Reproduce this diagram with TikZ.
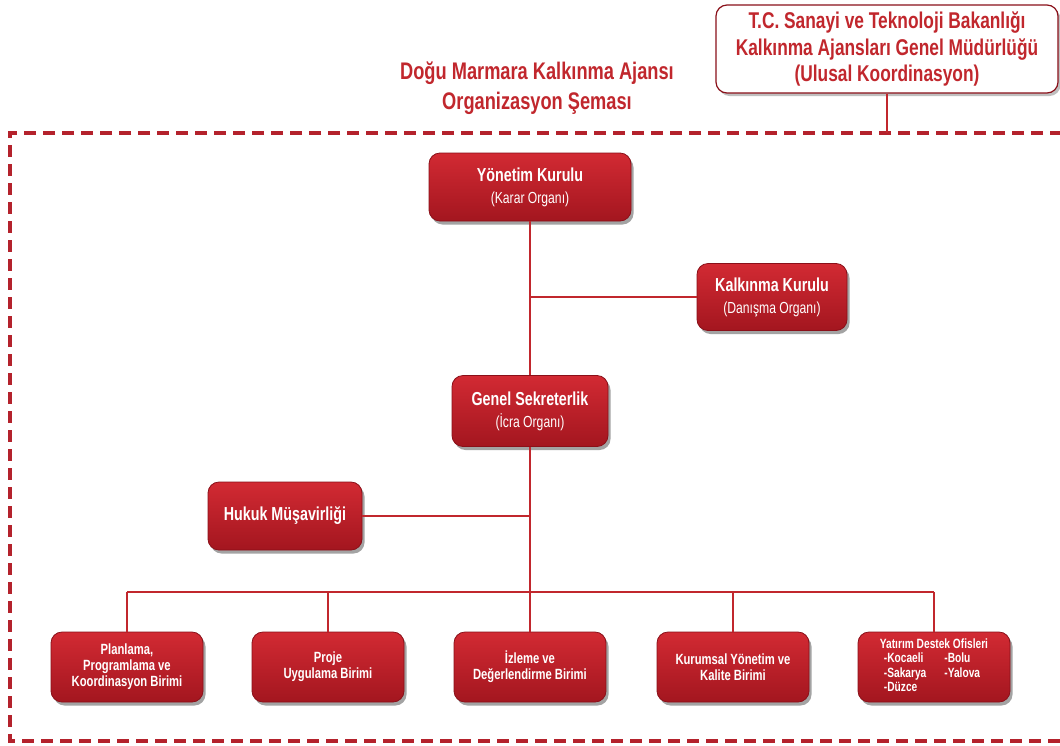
\documentclass[tikz,border=0pt]{standalone}
\usepackage{fontspec}
\setmainfont{Liberation Sans}[FakeStretch=0.76]
\usetikzlibrary{shadows,calc}
\definecolor{ared}{HTML}{C1272D}
\definecolor{framered}{HTML}{B4222C}
\definecolor{boxtop}{HTML}{D22A33}
\definecolor{boxbot}{HTML}{A3161F}
\definecolor{boxedge}{HTML}{8A1019}
\begin{document}
\begin{tikzpicture}[x=1pt,y=-1pt,
  unitbox/.style={rounded corners=11pt, top color=boxtop, bottom color=boxbot, draw=boxedge, line width=0.8pt,
    text=white, align=center, inner sep=2pt,
    drop shadow={shadow xshift=2.5pt, shadow yshift=-3.5pt, fill=black!60, opacity=0.6}},
  bigbox/.style={unitbox, minimum width=#1, minimum height=68pt, font=\fontsize{18.8}{22}\selectfont},
  smallbox/.style={unitbox, minimum width=152pt, minimum height=70pt, font=\bfseries\fontsize{14.8}{16}\selectfont},
  link/.style={draw=ared, line width=1.8pt},
  framel/.style={draw=framered, line width=4pt, dash pattern=on 12pt off 7pt},
  headtxt/.style={text=ared, font=\bfseries\fontsize{24}{30}\selectfont, align=center}
]
\useasboundingbox (0,0) rectangle (1060,745);
\fill[white] (0,0) rectangle (1060,745);

% outer dashed frame
\draw[framel] (1062,133) -- (10,133) -- (10,741) -- (1062,741);

% ministry box
\node[rounded corners=11pt, fill=white, draw=boxedge, line width=1.2pt, minimum width=342pt, minimum height=88pt,
  text=ared, align=center, font=\bfseries\fontsize{22.8}{26.5}\selectfont,
  drop shadow={shadow xshift=2.5pt, shadow yshift=-3pt, fill=black!50, opacity=0.5}] (tc) at (887,49)
  {T.C. Sanayi ve Teknoloji Bakanlığı\\Kalkınma Ajansları Genel Müdürlüğü\\(Ulusal Koordinasyon)};
\coordinate (tcf) at (887,133);
\draw[link] (tc.south) -- (tcf);

% title
\node[headtxt] (title) at (537,88) {Doğu Marmara Kalkınma Ajansı\\Organizasyon Şeması};

% main boxes
\node[bigbox=202pt] (yk) at (530,187) {{\bfseries Yönetim Kurulu}\\{\fontsize{16}{18}\selectfont (Karar Organı)}};
\node[bigbox=150pt, minimum height=67pt] (kk) at (772,297) {{\bfseries Kalkınma Kurulu}\\{\fontsize{16}{18}\selectfont (Danışma Organı)}};
\node[bigbox=156pt, minimum height=71pt] (gs) at (530,411) {{\bfseries Genel Sekreterlik}\\{\fontsize{16}{18}\selectfont (İcra Organı)}};
\node[bigbox=154pt] (hm) at (285,516) {{\bfseries Hukuk Müşavirliği}};

% bottom units
\node[smallbox] (b1) at (127,667) {Planlama,\\Programlama ve\\Koordinasyon Birimi};
\node[smallbox] (b2) at (328,667) {Proje\\Uygulama Birimi};
\node[smallbox] (b3) at (530,667) {İzleme ve\\Değerlendirme Birimi};
\node[smallbox] (b4) at (733,667) {Kurumsal Yönetim ve\\Kalite Birimi};
\node[smallbox, font=\bfseries\fontsize{13.4}{14.5}\selectfont] (b5) at (934,667)
  {\begin{tabular}{@{}l@{\hspace{18pt}}l@{}}
   \multicolumn{2}{@{}l@{}}{Yatırım Destek Ofisleri}\\
   \hspace{4pt}-Kocaeli & -Bolu\\
   \hspace{4pt}-Sakarya & -Yalova\\
   \hspace{4pt}-Düzce & \\
   \end{tabular}};

% connectors
\coordinate (j1) at (530,297);
\coordinate (bus) at (530,592);
\draw[link] (yk.south) -- (gs.north);
\draw[link] (j1) -- (kk.west);
\draw[link] (gs.south) -- (bus);
\draw[link] (hm.east) -- (hm.east -| gs.south);
\draw[link] (b1.north |- bus) -- (b5.north |- bus);
\foreach \i in {1,...,5} {\draw[link] (b\i.north) -- (b\i.north |- bus);}
\end{tikzpicture}
\end{document}
